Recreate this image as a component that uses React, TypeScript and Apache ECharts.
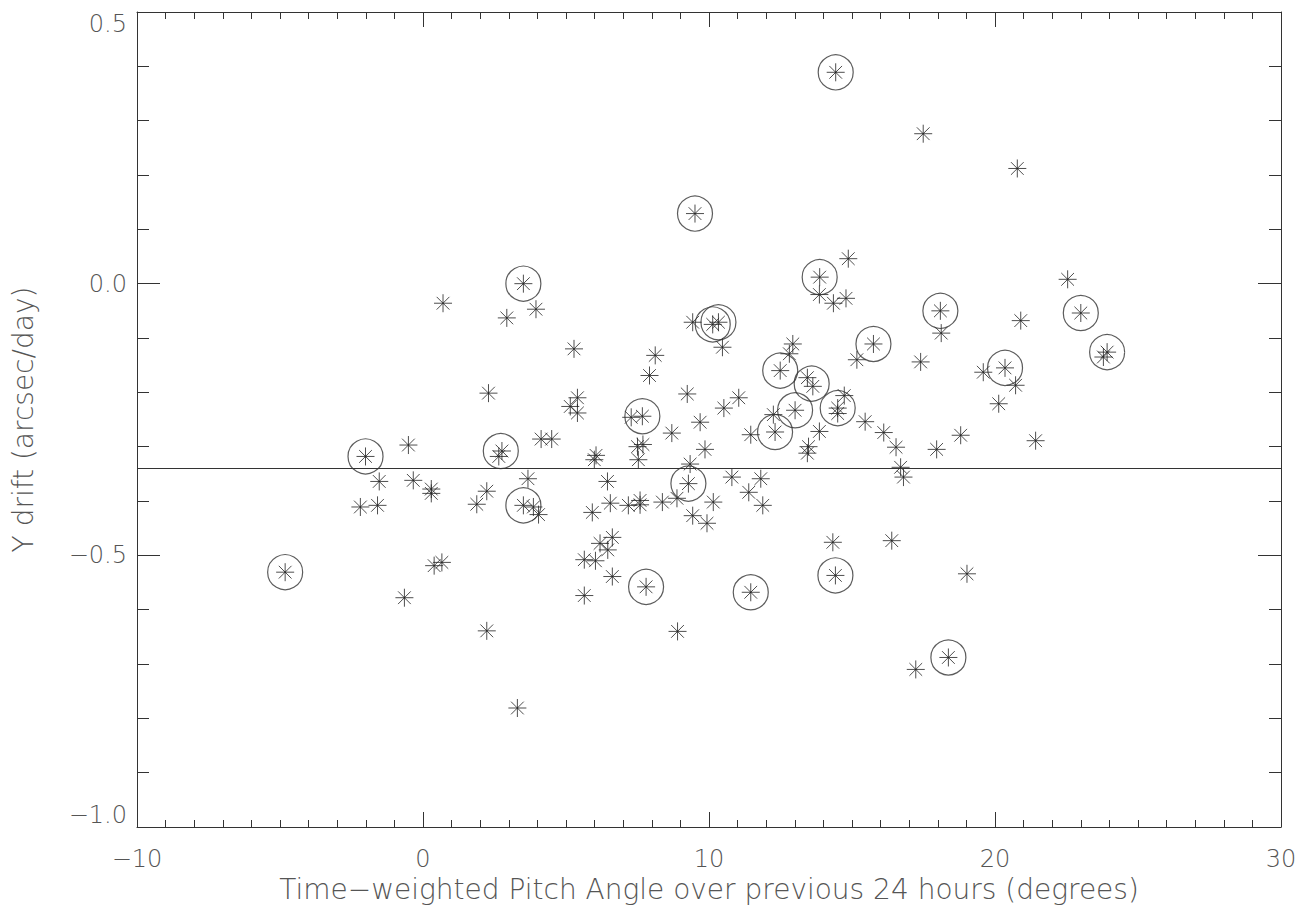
import React, { useEffect, useRef } from "react";
import * as echarts from "echarts";

// All measured points (x: pitch angle in degrees, y: drift in arcsec/day)
const pointX = [
  14.43, 17.49, 20.78, 9.51, 3.51, 0.70, 2.93, 3.95, 14.87, 13.87, 22.54, 23.0, 18.09, 20.9, 23.92, 23.79,
  15.75, 18.12, 17.40, 20.35, 19.59, 20.72, 20.13, 15.46, 16.11, 16.54, 17.96, 18.80, 21.42, 16.70, 16.80,
  2.29, 4.13, 4.50, -2.01, -0.51, 2.65, 2.76, -1.53, -0.34, 0.29, 0.29, 2.23, 3.67, -4.82, -2.19, -1.59,
  1.88, 3.51, 3.86, 4.04, 0.39, 0.66, -0.65, 2.23, 3.30, 9.43, 10.13, 10.33, 10.47, 5.28, 8.12, 7.92,
  14.35, 12.93, 12.81, 12.49, 13.44, 13.63, 15.17, 14.73, 14.50, 14.50, 13.01, 12.25, 12.31, 11.46, 13.86,
  13.48, 13.44, 5.40, 5.15, 5.40, 7.28, 7.67, 9.24, 11.04, 10.52, 9.69, 8.70, 7.50, 7.69, 7.53, 6.05, 5.99,
  9.86, 9.34, 9.28, 6.45, 10.80, 11.81, 11.39, 5.92, 6.55, 7.18, 7.59, 7.59, 8.37, 10.15, 9.43, 9.93, 11.88,
  6.62, 6.19, 6.46, 5.64, 6.03, 6.62, 7.80, 5.64, 8.90, 11.46, 14.33, 14.42, 16.39, 19.02, 17.23, 18.37,
  13.86, 14.79, 8.88,
];
const pointY = [
  0.389, 0.276, 0.212, 0.129, 0.0, -0.036, -0.063, -0.047, 0.046, 0.012, 0.008, -0.054, -0.050, -0.068, -0.126, -0.135,
  -0.111, -0.091, -0.144, -0.155, -0.163, -0.187, -0.221, -0.254, -0.274, -0.301, -0.305, -0.279, -0.289, -0.338, -0.356,
  -0.2015, -0.286, -0.286, -0.318, -0.297, -0.318, -0.308, -0.364, -0.362, -0.378, -0.386, -0.382, -0.359, -0.531, -0.411, -0.408,
  -0.406, -0.408, -0.411, -0.425, -0.519, -0.513, -0.578, -0.639, -0.781, -0.071, -0.075, -0.071, -0.117, -0.12, -0.132, -0.169,
  -0.036, -0.111, -0.129, -0.160, -0.173, -0.189, -0.140, -0.206, -0.229, -0.239, -0.233, -0.241, -0.273, -0.278, -0.272,
  -0.300, -0.312, -0.210, -0.226, -0.238, -0.246, -0.244, -0.203, -0.210, -0.229, -0.255, -0.275, -0.300, -0.296, -0.324, -0.316, -0.324,
  -0.305, -0.332, -0.368, -0.364, -0.356, -0.359, -0.384, -0.421, -0.404, -0.408, -0.407, -0.399, -0.402, -0.402, -0.427, -0.441, -0.408,
  -0.467, -0.478, -0.490, -0.508, -0.510, -0.539, -0.558, -0.574, -0.640, -0.568, -0.476, -0.537, -0.473, -0.534, -0.710, -0.688,
  -0.020, -0.027, -0.395,
];

// Circled points
const circleX = [14.43, 9.51, 3.51, 13.87, 23.0, 18.09, 23.92, 15.75, 20.35, -2.01, 2.72, -4.82, 3.51, 10.13, 10.33,
  12.49, 13.59, 14.50, 13.01, 12.31, 7.67, 9.28, 7.80, 11.46, 14.42, 18.37];
const circleY = [0.389, 0.129, 0.0, 0.012, -0.054, -0.050, -0.126, -0.111, -0.155, -0.318, -0.308, -0.531, -0.408, -0.075, -0.071,
  -0.160, -0.184, -0.229, -0.233, -0.273, -0.244, -0.368, -0.558, -0.568, -0.537, -0.688];

const meanLevel = -0.34;

const xTitle = "Time\u2212weighted Pitch Angle over previous 24 hours (degrees)";
const yTitle = "Y drift (arcsec/day)";

const STAR = "path://M10 0L10 20M0 10L20 10M2.93 2.93L17.07 17.07M2.93 17.07L17.07 2.93";

const fmt = (v: number, digits: number) => {
  const s = Math.abs(v).toFixed(digits);
  return v < 0 ? "\u2212" + s : s;
};

export default function App() {
  const ref = useRef<HTMLDivElement>(null);
  useEffect(() => {
    if (!ref.current) return;
    const chart = echarts.init(ref.current, undefined, { renderer: "svg" });
    const font = "DejaVu Sans";
    const labelStyle = { color: "#555", fontSize: 24, fontFamily: font, fontWeight: 200 as any };
    const titleStyle = { color: "#555", fontSize: 28, fontFamily: font, fontWeight: 200 as any };
    const lineColor = "#333";
    const xCommon = {
      type: "value",
      min: -10,
      max: 30,
      interval: 10,
      splitLine: { show: false },
      axisLine: { show: true, onZero: false, lineStyle: { color: lineColor, width: 1 } },
      axisTick: { show: true, inside: true, length: 15, lineStyle: { color: lineColor } },
      minorTick: { show: true, splitNumber: 10, length: 7, lineStyle: { color: lineColor } },
    };
    const yCommon = {
      type: "value",
      min: -1,
      max: 0.5,
      interval: 0.5,
      splitLine: { show: false },
      axisLine: { show: true, onZero: false, lineStyle: { color: lineColor, width: 1 } },
      axisTick: { show: true, inside: true, length: 23, lineStyle: { color: lineColor } },
      minorTick: { show: true, splitNumber: 5, length: 12, lineStyle: { color: lineColor } },
    };
    const stars = pointX.map((x, i) => [x, pointY[i]]);
    const circles = circleX.map((x, i) => [x, circleY[i]]);
    chart.setOption({
      animation: false,
      grid: { left: 137, right: 20, top: 12, bottom: 84, containLabel: false },
      xAxis: [
        {
          ...xCommon,
          position: "bottom",
          name: xTitle,
          nameLocation: "middle",
          nameGap: 47,
          nameTextStyle: { ...titleStyle },
          axisLabel: { ...labelStyle, margin: 20, formatter: (v: number) => fmt(v, 0) },
        },
        { ...xCommon, position: "top", axisLabel: { show: false } },
      ],
      yAxis: [
        {
          ...yCommon,
          position: "left",
          name: yTitle,
          nameLocation: "middle",
          nameGap: 100,
          nameRotate: 90,
          nameTextStyle: { ...titleStyle },
          axisLabel: {
            ...labelStyle,
            margin: 10,
            verticalAlignMinLabel: "bottom",
            verticalAlignMaxLabel: "top",
            formatter: (v: number) => fmt(v, 1),
          },
        },
        { ...yCommon, position: "right", axisLabel: { show: false } },
      ],
      series: [
        {
          type: "scatter",
          data: stars,
          symbol: STAR,
          symbolSize: 18,
          itemStyle: { color: "rgba(0,0,0,0)", borderColor: "#222", borderWidth: 1 },
          markLine: {
            silent: true,
            symbol: ["none", "none"],
            label: { show: false },
            lineStyle: { color: lineColor, type: "solid", width: 1 },
            data: [{ yAxis: meanLevel }],
          },
        },
        {
          type: "scatter",
          data: circles,
          symbol: "circle",
          symbolSize: 35,
          itemStyle: { color: "rgba(0,0,0,0)", borderColor: "#333", borderWidth: 1.2 },
        },
      ],
    });
    return () => chart.dispose();
  }, []);
  return (
    <div
      ref={ref}
      style={{ position: "absolute", left: 0, top: 0, width: 1301, height: 911, background: "#fff" }}
    />
  );
}
